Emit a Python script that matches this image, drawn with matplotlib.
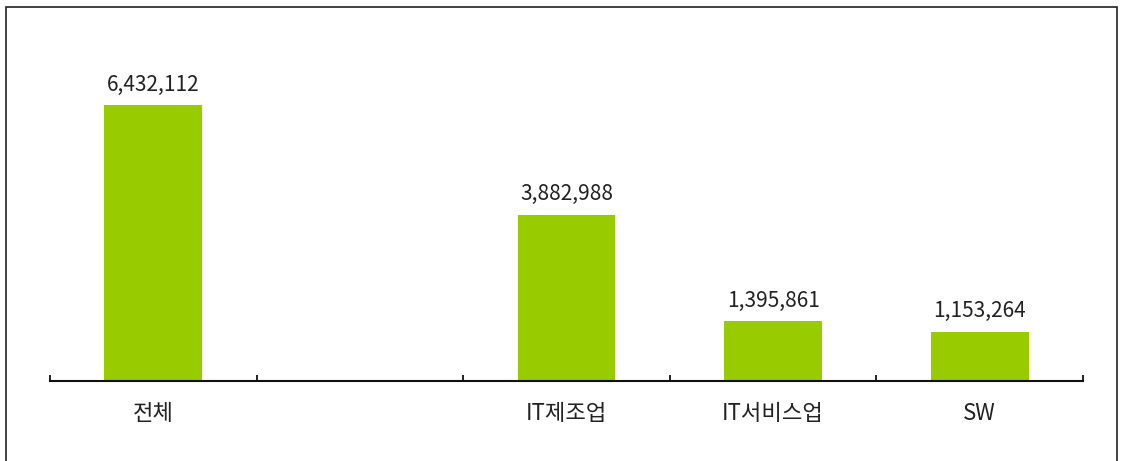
import matplotlib
matplotlib.use("Agg")
import matplotlib.pyplot as plt
from matplotlib.patches import Rectangle
import numpy as np

plt.rcParams['font.family'] = ['Noto Sans CJK KR', 'DejaVu Sans']

# data
categories = ["전체", "", "IT제조업", "IT서비스업", "SW"]
values = [6432112, None, 3882988, 1395861, 1153264]

fig = plt.figure(figsize=(11.23, 4.61), dpi=100)
ax = fig.add_axes([50 / 1123, 80 / 461, 1033 / 1123, 300 / 461])

x = np.arange(len(categories))
for xi, v in zip(x, values):
    if v is None:
        continue
    ax.bar(xi, v, width=0.474, color="#99cc00", zorder=2)
    ax.annotate(f"{v:,}", (xi, v), xytext=(0, 7), textcoords="offset points",
                ha="center", va="bottom", fontsize=15, color="#222222")

ax.set_xlim(-0.5, len(categories) - 0.5)
ax.set_ylim(0, 7000000)

for s in ["top", "right", "left"]:
    ax.spines[s].set_visible(False)
ax.spines["bottom"].set_linewidth(1.5)
ax.spines["bottom"].set_color("#111111")
ax.set_yticks([])

ax.set_xticks(np.arange(len(categories) + 1) - 0.5)
ax.set_xticklabels([])
ax.tick_params(axis="x", direction="in", length=4, width=1.3, color="#111111")
ax.set_xticks(x, minor=True)
ax.set_xticklabels(categories, minor=True, fontsize=16, color="#222222")
ax.tick_params(axis="x", which="minor", length=0, pad=15)

# outer frame
fig.patches.append(Rectangle((6 / 1123, -0.05), 1111 / 1123, (461 - 7) / 461 + 0.05,
                             transform=fig.transFigure, fill=False,
                             edgecolor="#222222", linewidth=1.2))

fig.savefig("out.png", dpi=100)
